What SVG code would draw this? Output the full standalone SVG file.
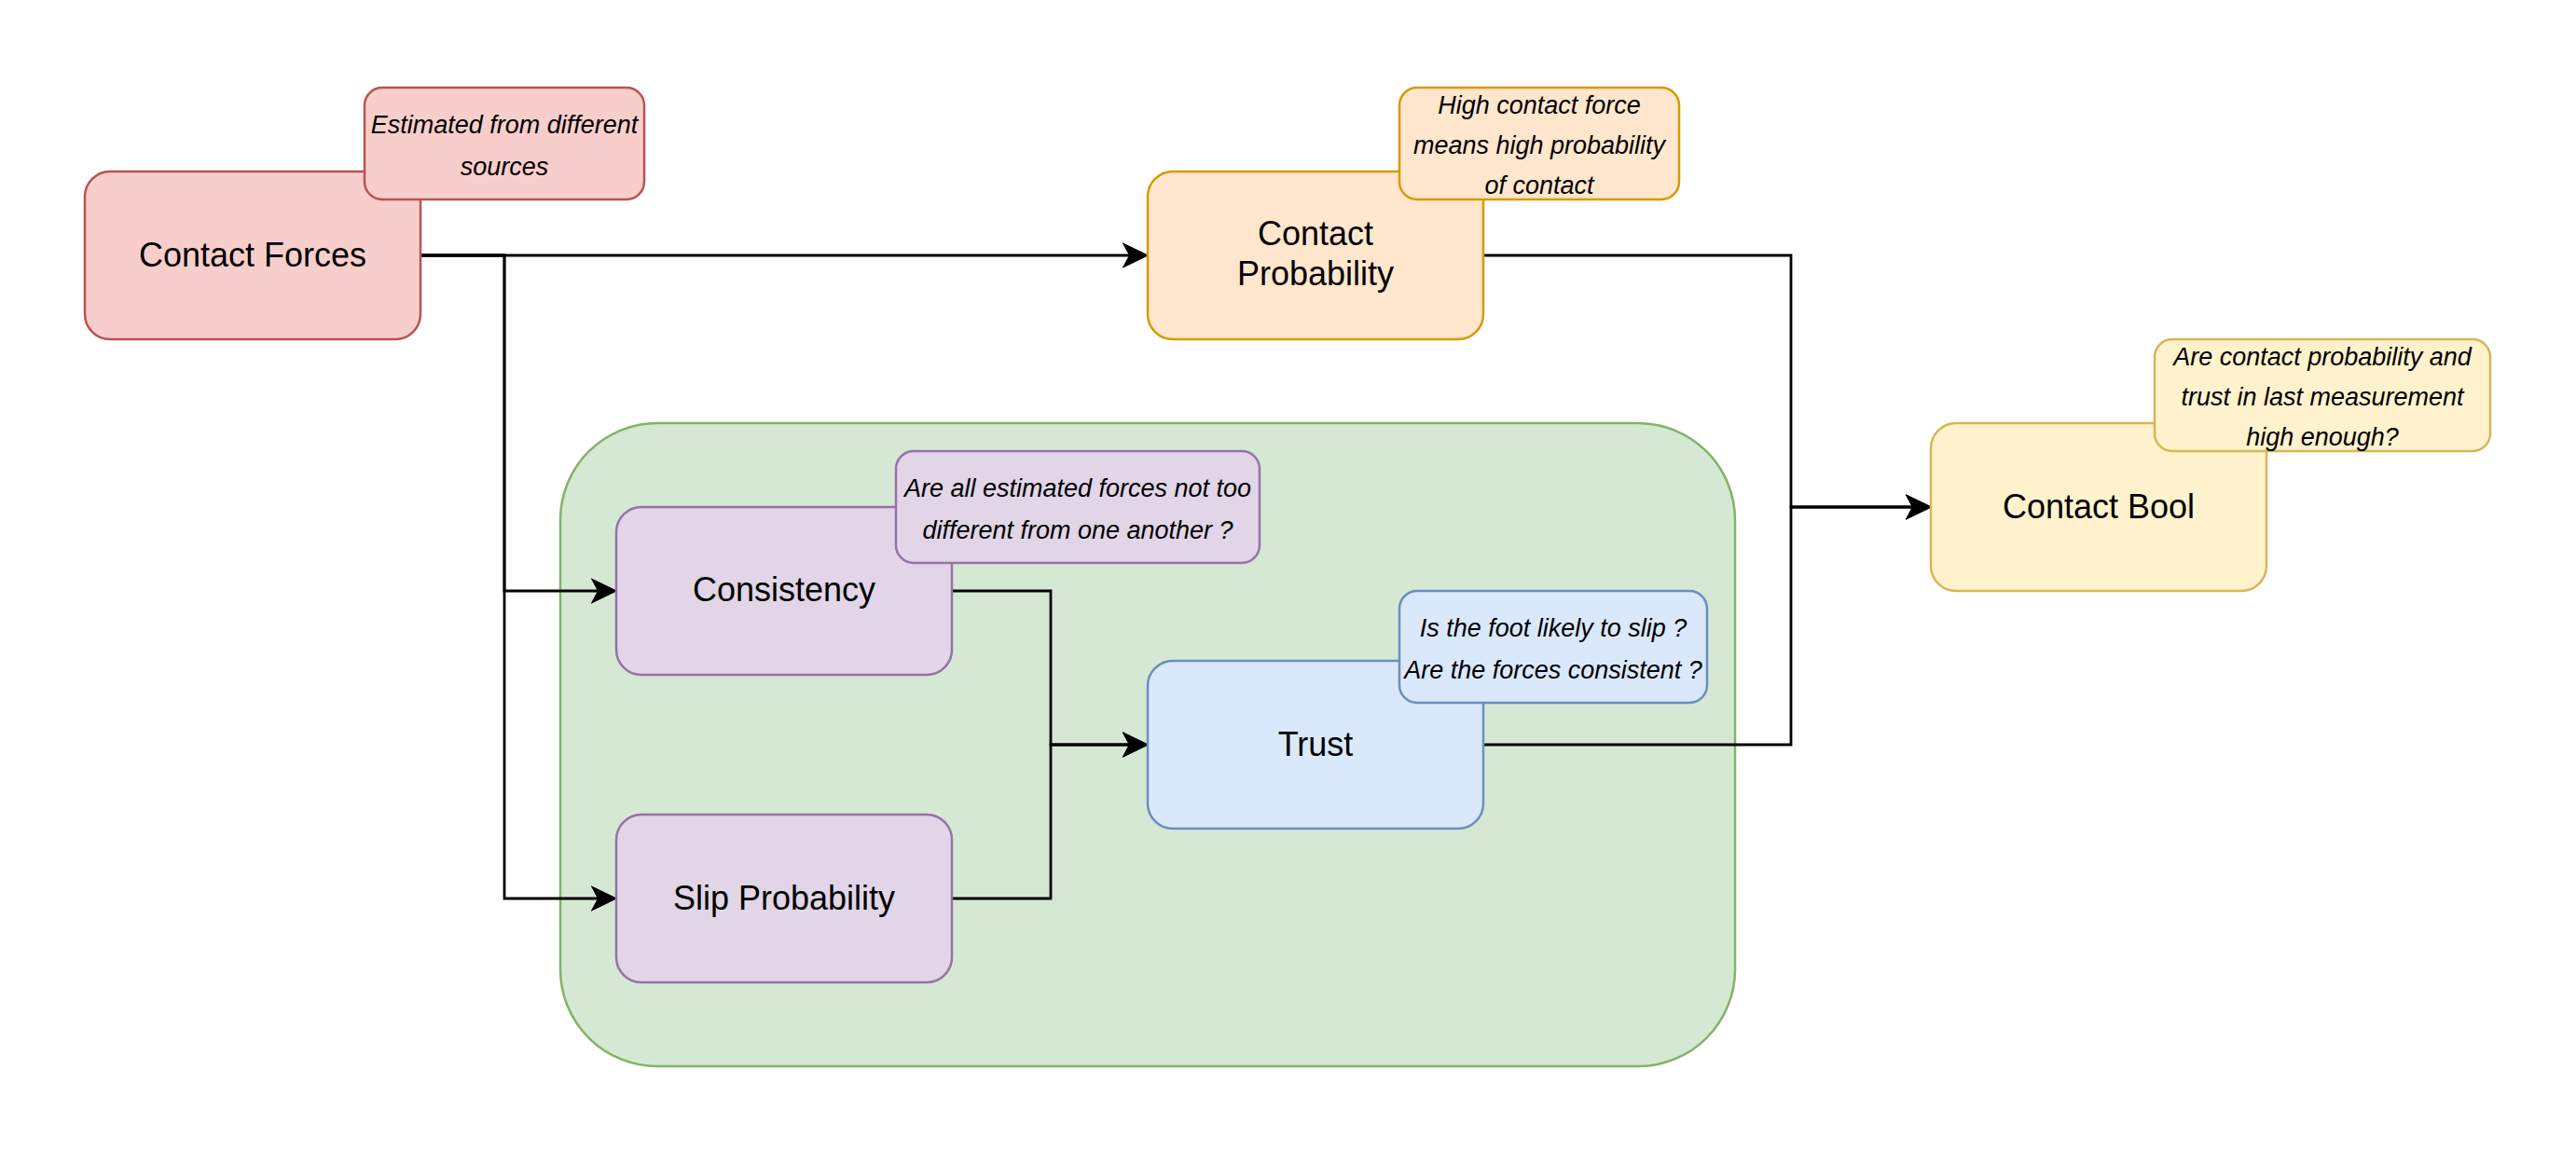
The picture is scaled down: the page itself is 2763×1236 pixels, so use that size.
<svg xmlns="http://www.w3.org/2000/svg" width="2763" height="1236" viewBox="0 0 2763 1236">
<style>
.box{stroke-width:2.5}
.red{fill:#f8cecc;stroke:#b85450}
.orange{fill:#ffe6cc;stroke:#d79b00}
.yellow{fill:#fff2cc;stroke:#d6b656}
.green{fill:#d5e8d4;stroke:#82b366}
.purple{fill:#e1d5e7;stroke:#9673a6}
.blue{fill:#dae8fc;stroke:#6c8ebf}
.lbl{font-family:"Liberation Sans",Arial,sans-serif;font-size:36px;fill:#000;text-anchor:middle}
.note{font-family:"Liberation Sans",Arial,sans-serif;font-size:27px;font-style:italic;fill:#000;text-anchor:middle}
.edge{fill:none;stroke:#000;stroke-width:2.8}
</style>
<defs>
<marker id="arr" markerUnits="userSpaceOnUse" markerWidth="30" markerHeight="30" refX="7" refY="13" orient="auto" viewBox="0 0 28 26">
<path d="M0,0 L27,13 L0,26 L7,13 Z" fill="#000"/>
</marker>
</defs>
<rect width="2763" height="1236" fill="#fff"/>
<g id="container">
<rect class="box green" x="601" y="454" width="1260" height="690" rx="104" ry="104"/>
</g>
<g id="connectors">
<path class="edge" d="M451,274 H1211" marker-end="url(#arr)"/>
<path class="edge" d="M451,274 H541 V634 H641" marker-end="url(#arr)"/>
<path class="edge" d="M451,274 H541 V964 H641" marker-end="url(#arr)"/>
<path class="edge" d="M1022,634 H1127 V799 H1211" marker-end="url(#arr)"/>
<path class="edge" d="M1022,964 H1127 V799 H1211" marker-end="url(#arr)"/>
<path class="edge" d="M1591,274 H1921 V544 H2051" marker-end="url(#arr)"/>
<path class="edge" d="M1591,799 H1921 V544 H2051" marker-end="url(#arr)"/>
</g>
<g id="contact-forces">
<rect class="box red" x="91" y="184" width="360" height="180" rx="27" ry="27"/>
<text class="lbl" x="271" y="286">Contact Forces</text>
</g>
<g id="note-contact-forces">
<rect class="box red" x="391" y="94" width="300" height="120" rx="19" ry="19"/>
<text class="note" x="541" y="143">Estimated from different</text>
<text class="note" x="541" y="188">sources</text>
</g>
<g id="contact-probability">
<rect class="box orange" x="1231" y="184" width="360" height="180" rx="27" ry="27"/>
<text class="lbl" x="1411" y="263">Contact</text>
<text class="lbl" x="1411" y="306">Probability</text>
</g>
<g id="note-contact-probability">
<rect class="box orange" x="1501" y="94" width="300" height="120" rx="19" ry="19"/>
<text class="note" x="1651" y="122">High contact force</text>
<text class="note" x="1651" y="165">means high probability</text>
<text class="note" x="1651" y="208">of contact</text>
</g>
<g id="contact-bool">
<rect class="box yellow" x="2071" y="454" width="360" height="180" rx="27" ry="27"/>
<text class="lbl" x="2251" y="556">Contact Bool</text>
</g>
<g id="note-contact-bool">
<rect class="box yellow" x="2311" y="364" width="360" height="120" rx="19" ry="19"/>
<text class="note" x="2491" y="392">Are contact probability and</text>
<text class="note" x="2491" y="435">trust in last measurement</text>
<text class="note" x="2491" y="478">high enough?</text>
</g>
<g id="consistency">
<rect class="box purple" x="661" y="544" width="360" height="180" rx="27" ry="27"/>
<text class="lbl" x="841" y="645">Consistency</text>
</g>
<g id="note-consistency">
<rect class="box purple" x="961" y="484" width="390" height="120" rx="19" ry="19"/>
<text class="note" x="1156" y="533">Are all estimated forces not too</text>
<text class="note" x="1156" y="578">different from one another ?</text>
</g>
<g id="slip-probability">
<rect class="box purple" x="661" y="874" width="360" height="180" rx="27" ry="27"/>
<text class="lbl" x="841" y="976">Slip Probability</text>
</g>
<g id="trust">
<rect class="box blue" x="1231" y="709" width="360" height="180" rx="27" ry="27"/>
<text class="lbl" x="1411" y="811">Trust</text>
</g>
<g id="note-trust">
<rect class="box blue" x="1501" y="634" width="330" height="120" rx="19" ry="19"/>
<text class="note" x="1666" y="683">Is the foot likely to slip ?</text>
<text class="note" x="1666" y="728">Are the forces consistent ?</text>
</g>
</svg>
